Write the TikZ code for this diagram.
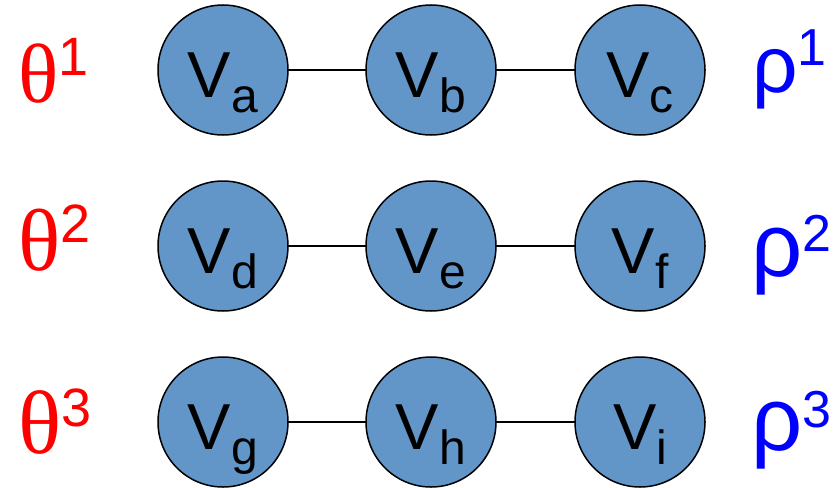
\documentclass[tikz,border=0pt]{standalone}
\usepackage{fontspec}
\setmainfont{Liberation Sans}
\newfontfamily\thetaFont{Liberation Serif}
\usepackage{tikz}

% vertex label: big V with a lowered index
\newcommand{\vname}[1]{{\fontsize{65}{65}\selectfont V}\raisebox{-15pt}{\fontsize{48}{48}\selectfont #1}}
% side labels: #1 letter size, #2 raise of the index, #3 index
\newcommand{\thetaLab}[3]{{\thetaFont\fontsize{#1}{#1}\selectfont θ}\raisebox{#2}{\fontsize{54}{54}\selectfont #3}}
\newcommand{\rhoLab}[3]{{\fontsize{#1}{#1}\selectfont ρ}\raisebox{#2}{\fontsize{52}{52}\selectfont #3}}

\definecolor{vertexBlue}{RGB}{98,150,201}

\begin{document}
\begin{tikzpicture}[x=1pt,y=-1pt,
  vertex/.style={circle,draw=black,line width=1.5pt,fill=vertexBlue,
    minimum size=130pt,inner sep=0pt,outer sep=0pt,
    text height=54pt,text depth=0pt},
  edge/.style={line width=1.2pt},
  thetaNode/.style={anchor=base west,inner sep=0pt,text=red},
  rhoNode/.style={anchor=base west,inner sep=0pt,text=blue}]
\useasboundingbox (0,0) rectangle (834,487);

% first chain
\node[vertex] (vA) at (223,70) {\vname{a}};
\node[vertex] (vB) at (431,70) {\vname{b}};
\node[vertex] (vC) at (640,70) {\vname{c}};
\draw[edge] (vA) -- (vB);
\draw[edge] (vB) -- (vC);
\node[thetaNode] (thetaOne) at (18,102) {\thetaLab{84}{27pt}{1}};
\node[rhoNode] (rhoOne) at (752,92) {\rhoLab{80}{27pt}{1}};

% second chain
\node[vertex] (vD) at (223,246) {\vname{d}};
\node[vertex] (vE) at (431,246) {\vname{e}};
\node[vertex] (vF) at (640,246) {\vname{f}};
\draw[edge] (vD) -- (vE);
\draw[edge] (vE) -- (vF);
\node[thetaNode] (thetaTwo) at (18,270) {\thetaLab{88}{28pt}{2}};
\node[rhoNode] (rhoTwo) at (751,276) {\rhoLab{90}{25pt}{2}};

% third chain
\node[vertex] (vG) at (223,422) {\vname{g}};
\node[vertex] (vH) at (431,422) {\vname{h}};
\node[vertex] (vI) at (640,422) {\vname{i}};
\draw[edge] (vG) -- (vH);
\draw[edge] (vH) -- (vI);
\node[thetaNode] (thetaThree) at (18,453) {\thetaLab{90}{27pt}{3}};
\node[rhoNode] (rhoThree) at (751,450) {\rhoLab{90}{23pt}{3}};
\end{tikzpicture}
\end{document}
